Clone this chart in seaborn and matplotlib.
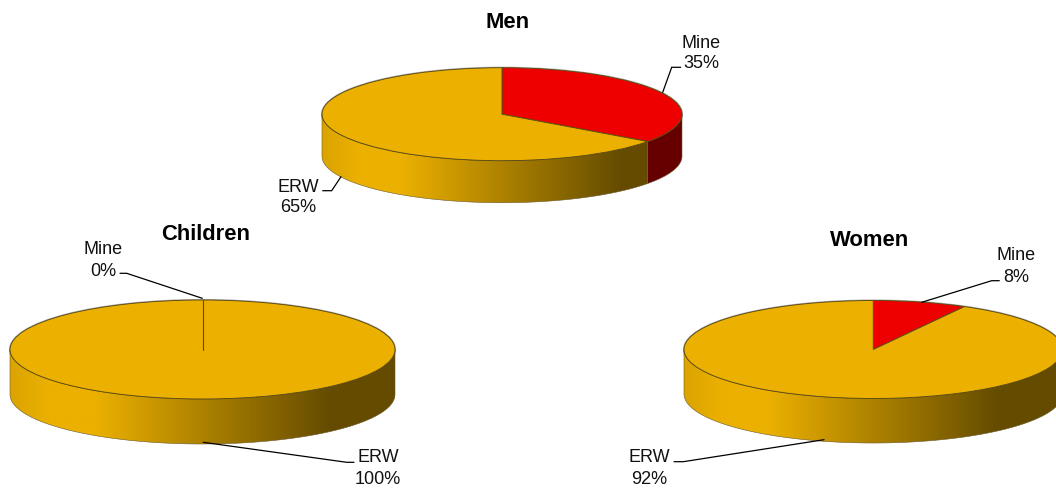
import matplotlib
matplotlib.use("Agg")
import matplotlib.pyplot as plt
from matplotlib.patches import Ellipse, Polygon
import numpy as np
import seaborn as sns

# shares
groups = ["Men", "Children", "Women"]
categories = ["Mine", "ERW"]
mine_share = [35, 0, 8]
erw_share = [65, 100, 92]
slice_colors = ["#EE0000", "#EBB000"]

# pixel layout of each pie: centre x, centre y, x radius, y radius, wall depth
W, H = 1056, 489
pie_layout = {
    "Men": (502, 115.2, 180, 46.5, 42),
    "Children": (202.5, 350.5, 192.5, 49.5, 45),
    "Women": (873.3, 350.5, 189.3, 49, 44.5),
}
title_pos = {"Men": (508, 22), "Children": (205.5, 234), "Women": (870, 240)}
# label centre x, first line y, second line y
label_pos = {
    ("Men", "Mine"): (701, 43, 64),
    ("Men", "ERW"): (298, 188, 208),
    ("Children", "Mine"): (103, 249, 271),
    ("Children", "ERW"): (378, 458, 480),
    ("Women", "Mine"): (1016, 255, 278),
    ("Women", "ERW"): (649, 458, 480),
}
leaders = {
    ("Men", "Mine"): ([662.7, 671.7, 680.7], [93.3, 68.3, 68.3]),
    ("Men", "ERW"): ([341, 331.7, 322.7], [177.7, 191.7, 191.7]),
    ("Children", "Mine"): ([202.3, 126.7, 120], [299.3, 274.3, 274.3]),
    ("Children", "ERW"): ([203.3, 346.7, 354], [443.3, 463.3, 463.3]),
    ("Women", "Mine"): ([921.7, 991.7, 999.3], [303.3, 281.7, 281.7]),
    ("Women", "ERW"): ([824, 683.3, 674], [440.7, 462.7, 462.7]),
}

sns.set_theme(style="white")
plt.rcParams["font.family"] = ["Liberation Sans", "DejaVu Sans"]

fig = plt.figure(figsize=(W / 100, H / 100), dpi=100, facecolor="white")

# shading of the side wall from left to right
stops = np.array([0, 0.1, 0.22, 0.83, 1])
factors = np.array([0.93, 1.0, 1.0, 0.43, 0.43])
shade = np.interp(np.linspace(0, 1, 256), stops, factors)


def draw_pie(name, values):
    cx, cy, rx, ry, depth = pie_layout[name]
    d = depth / ry
    ax = fig.add_axes([(cx - rx) / W, 1 - (cy + ry + depth) / H, 2 * rx / W, (2 * ry + depth) / H])
    wedges, _ = ax.pie(
        values,
        colors=slice_colors,
        startangle=90,
        counterclock=False,
        radius=1,
        wedgeprops={"edgecolor": "#5C4A12", "linewidth": 0.65},
    )
    for wedge in wedges:
        wedge.set_zorder(2)

    # soft grey rim behind the top face
    ax.add_patch(Ellipse((0, 0), 2, 2, fc="none", ec="#B0B0B0", lw=1.5, zorder=0.5, clip_on=False))

    # front wall, one piece per slice
    for wedge, color in zip(wedges, slice_colors):
        if wedge.theta1 == wedge.theta2:
            # an empty slice still shows as a single radial line
            t = np.radians(wedge.theta1)
            ax.plot([0, np.cos(t)], [0, np.sin(t)], color="#5C4A12", lw=0.8, zorder=3, clip_on=False)
            continue
        a = max(wedge.theta1, -180)
        b = min(wedge.theta2, 0)
        if b <= a:
            continue
        t = np.radians(np.linspace(a, b, 120))
        xs = np.r_[np.cos(t), np.cos(t)[::-1]]
        ys = np.r_[np.sin(t), np.sin(t)[::-1] - d]
        outline = Polygon(np.c_[xs, ys], closed=True, fc="none", ec="#6B5A2A", lw=0.4,
                          zorder=1.5, clip_on=False)
        ax.add_patch(outline)
        rgb = np.array(matplotlib.colors.to_rgb(color))
        img = ax.imshow(
            (shade[:, None] * rgb)[None, :, :],
            extent=(-1, 1, -1 - d, 1),
            aspect="auto",
            zorder=1,
        )
        img.set_clip_path(outline)

    ax.set_xlim(-1, 1)
    ax.set_ylim(-1 - d, 1)
    ax.set_aspect("auto")
    ax.axis("off")


for i, group in enumerate(groups):
    draw_pie(group, [mine_share[i], erw_share[i]])

# titles, labels and leader lines sit on a pixel sized overlay
over = fig.add_axes([0, 0, 1, 1], zorder=5)
over.set_xlim(0, W)
over.set_ylim(H, 0)
over.axis("off")

for i, group in enumerate(groups):
    tx, ty = title_pos[group]
    over.text(tx, ty, group, ha="center", va="center", fontsize=15.8, fontweight="bold", color="black")
    for cat, val in zip(categories, [mine_share[i], erw_share[i]]):
        lx, y1, y2 = label_pos[(group, cat)]
        over.text(lx, y1, cat, ha="center", va="center", fontsize=13, color="#111111")
        over.text(lx, y2, f"{val}%", ha="center", va="center", fontsize=13, color="#111111")
        xs, ys = leaders[(group, cat)]
        over.plot(xs, ys, color="black", lw=0.9, solid_joinstyle="miter")

fig.savefig("out.png", dpi=100)
